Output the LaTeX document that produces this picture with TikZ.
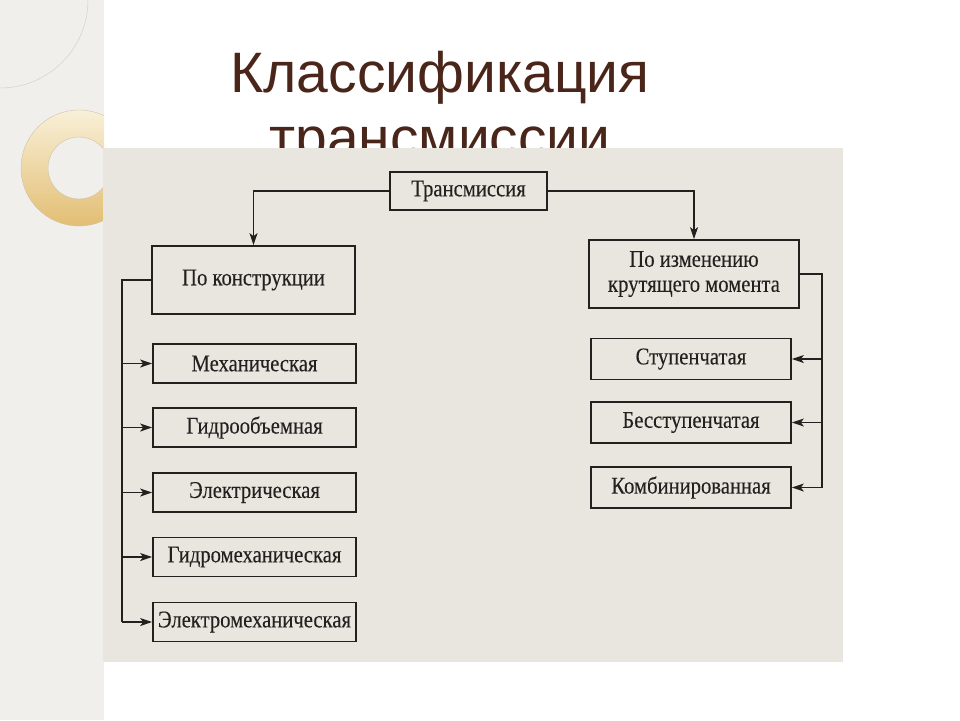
\documentclass[tikz,border=0pt]{standalone}
\usepackage{fontspec}
\setmainfont{Liberation Serif}
\newfontfamily\titlefont{Liberation Sans}
\newfontfamily\scanfont[FakeStretch=0.86,FakeBold=0.2]{Liberation Serif}
\usepackage{tikz}
\usetikzlibrary{arrows.meta,positioning,calc}
\definecolor{titlebrown}{RGB}{74,38,26}
\definecolor{scanbg}{RGB}{233,230,224}
\definecolor{stripbg}{RGB}{240,239,236}
\definecolor{ink}{RGB}{35,33,31}
\definecolor{goldd}{RGB}{226,190,115}
\definecolor{goldl}{RGB}{249,240,216}

\begin{document}
\begin{tikzpicture}[x=1pt,y=-1pt,
  box/.style={rectangle,draw=ink,line width=1.7pt,inner sep=0pt,text=ink,align=center,
    font=\scanfont\fontsize{24}{25}\selectfont},
  lbox/.style={box,minimum width=203pt,minimum height=39pt},
  rbox/.style={box,minimum width=200pt,minimum height=41pt},
  link/.style={draw=ink,line width=1.4pt},
  arr/.style={link,-{Stealth[length=12pt,width=8pt,inset=3pt]}},
  ttl/.style={font=\titlefont\fontsize{57}{60}\selectfont,text=titlebrown,anchor=base}]
  \useasboundingbox (0,0) rectangle (960,720);
  \fill[white] (0,0) rectangle (960,720);
  % left strip with the rings
  \fill[stripbg] (0,0) rectangle (104,720);
  \begin{scope}
    \clip (0,0) rectangle (104,720);
    \draw[black!18,line width=0.5pt] (0,0) circle (88pt);
    \shade[even odd rule,top color=goldl,bottom color=goldd] (79,168) circle (58pt) (79,168) circle (31pt);
    \draw[goldd!70!black!50,line width=0.4pt] (79,168) circle (58pt) (79,168) circle (31pt);
  \end{scope}
  % title, second line runs under the scan
  \node[ttl] (T1) at (440,92) {Классификация};
  \node[ttl] (T2) at (440,157) {трансмиссии};
  \fill[scanbg] (103,148) rectangle (843,662);
  % boxes
  \node[box,minimum width=157pt,minimum height=38pt] (TR) at (468.5,191) {Трансмиссия};
  \node[box,minimum width=203pt,minimum height=68pt] (KON) at (253.5,280) {По конструкции};
  \node[box,minimum width=210pt,minimum height=68pt] (IZM) at (694,274) {По изменению\\крутящего момента};
  \foreach \txt/\y [count=\i] in {Механическая/363.5,Гидрообъемная/427.5,Электрическая/492.5,
                                  Гидромеханическая/557,Электромеханическая/622} {
    \node[lbox] (K\i) at (254.5,\y) {\txt};
  }
  \foreach \txt/\y [count=\i] in {Ступенчатая/359,Бесступенчатая/422.5,Комбинированная/487.5} {
    \node[rbox] (M\i) at (691,\y) {\txt};
  }
  % connectors
  \draw[arr] (TR.west) -| (KON.north);
  \draw[arr] (TR.east) -| (IZM.north);
  \coordinate (LS) at (122,0);
  \coordinate (RS) at (822,0);
  \draw[link] (KON.west) -| (LS |- K5.west);
  \foreach \i in {1,...,5} \draw[arr] (LS |- K\i.west) -- (K\i.west);
  \draw[link] (IZM.east) -| (RS |- M3.east);
  \foreach \i in {1,...,3} \draw[arr] (RS |- M\i.east) -- (M\i.east);
\end{tikzpicture}
\end{document}
